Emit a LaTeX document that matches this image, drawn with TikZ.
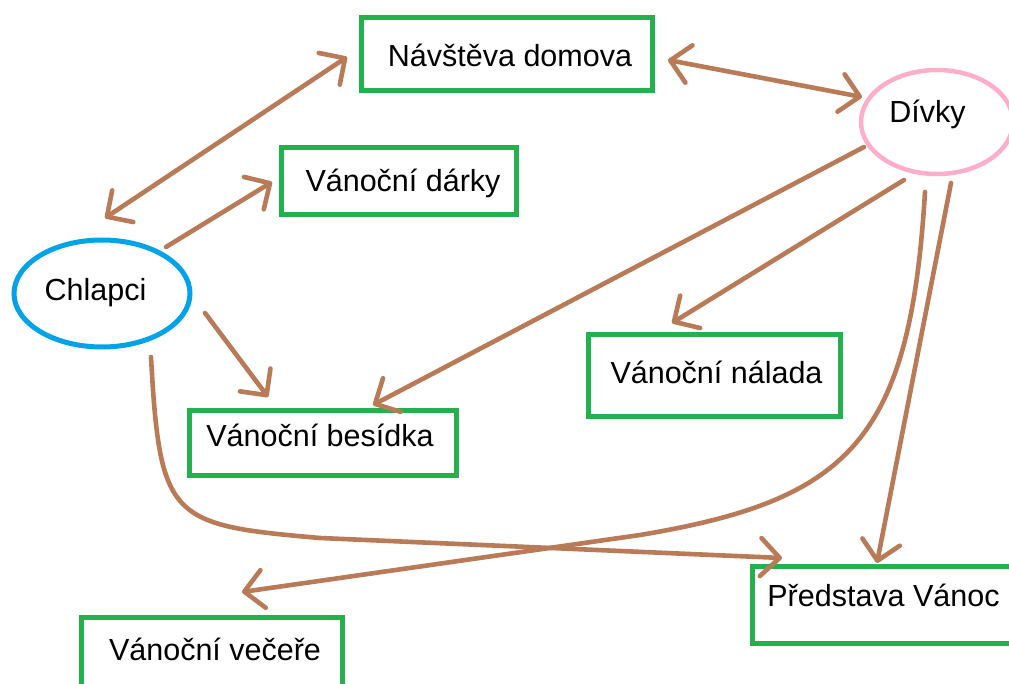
\documentclass[tikz,border=0pt]{standalone}
\usepackage{fontspec}
\setmainfont{Liberation Sans}
\usetikzlibrary{arrows.meta,shapes.geometric,calc}
\definecolor{bgreen}{HTML}{22B14C}
\definecolor{bblue}{HTML}{00A2E8}
\definecolor{bpink}{HTML}{FFAEC9}
\definecolor{bbrown}{HTML}{B97A57}
\begin{document}
\begin{tikzpicture}[x=1pt,y=-1pt,
  box/.style={draw=bgreen, line width=5pt, rectangle, inner sep=0pt,
    font=\fontsize{30.5}{36}\selectfont, text depth=10pt, text height={#1}},
  ell/.style={ellipse, line width=5pt, inner sep=0pt,
    font=\fontsize{30.5}{36}\selectfont, text depth=10pt},
  arr/.style={draw=bbrown, line width=4.6pt, line cap=round, line join=round,
    -{Straight Barb[length=19pt,width=38pt,round]}},
  arrb/.style={draw=bbrown, line width=4.6pt, line cap=round, line join=round,
    {Straight Barb[length=19pt,width=38pt,round]}-{Straight Barb[length=19pt,width=38pt,round]}}]
\useasboundingbox (0,0) rectangle (1009,684);
\fill[white] (0,0) rectangle (1009,684);

\node[box=35pt, minimum width=291pt, minimum height=73pt] (nav) at (506.5,54.5) {\hspace*{7pt}Návštěva domova};
\node[box=31pt, minimum width=235pt, minimum height=67pt] (dar) at (398.5,181.5) {\hspace*{9pt}Vánoční dárky};
\node[box=17pt, minimum width=267pt, minimum height=65pt] (bes) at (322.5,442.5) {Vánoční besídka\hspace*{5pt}};
\node[box=25pt, minimum width=252pt, minimum height=81pt] (nal) at (714,375.5) {\hspace*{5pt}Vánoční nálada};
\node[box=13pt, minimum width=263pt, minimum height=77pt] (pred) at (883.5,604.5) {Představa Vánoc};
\node[box=26pt, minimum width=261pt, minimum height=70pt] (vec) at (211.5,652) {\hspace*{7pt}Vánoční večeře};
\node[ell, draw=bblue, text height=25pt, minimum width=176pt, minimum height=107pt] (chl) at (102,293.5) {Chlapci\hspace*{13pt}};
\node[ell, draw=bpink, line width=4.5pt, text height=12pt, minimum width=152pt, minimum height=104pt] (div) at (937,122) {Dívky\hspace*{19pt}};

\draw[arrb] ($(chl)+(3,-75.5)$) -- ($(nav)+(-159.5,2.5)$);
\draw[arr] ($(chl)+(64,-46.5)$) -- ($(dar)+(-126.5,0.5)$);
\draw[arrb] ($(nav)+(161.5,5.5)$) -- ($(div)+(-75,-25)$);
\draw[arr] ($(chl)+(103,19.5)$) -- ($(bes)+(-54.5,-45.5)$);
\draw[arr] ($(div)+(-73,25)$) -- ($(bes)+(50.5,-37.5)$);
\draw[arr] ($(div)+(-33,58)$) -- ($(nal)+(-42,-52.5)$);
\draw[arr] ($(div)+(14,61)$) -- ($(pred)+(-6.5,-41.5)$);
\draw[arr] ($(div)+(-12,70)$) .. controls (910,440) and (850,500) .. (640,535) -- ($(vec)+(30.5,-60)$);
\draw[arr] ($(chl)+(49,63.5)$) .. controls (160,520) and (170,525) .. (320,538) -- ($(pred)+(-101.5,-46.5)$);
\end{tikzpicture}
\end{document}
